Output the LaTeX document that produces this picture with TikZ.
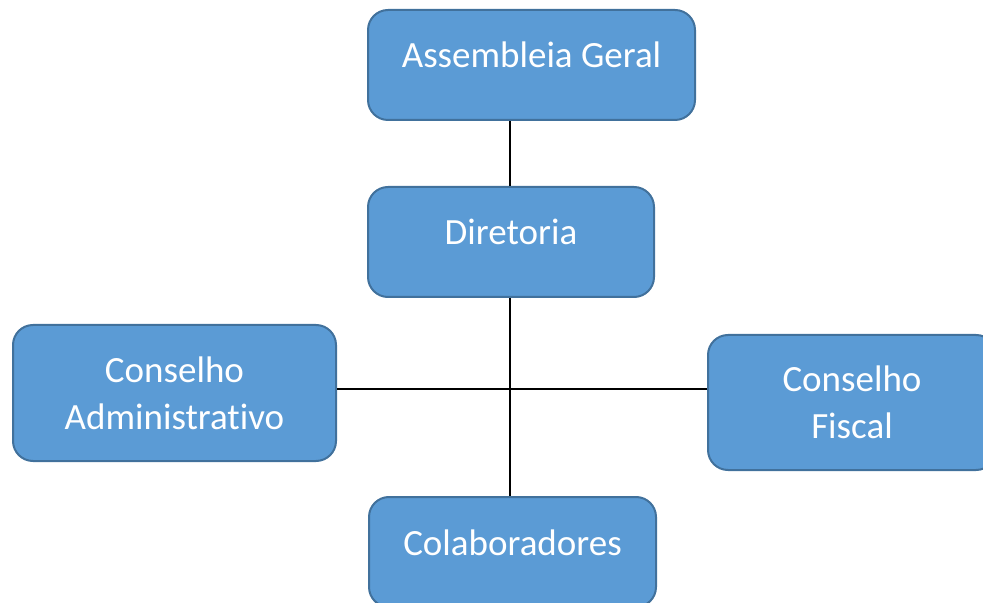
\documentclass[tikz,border=0pt]{standalone}
\usepackage{fontspec}
\setmainfont{Carlito}[Ligatures=NoCommon]
\definecolor{boxfill}{HTML}{5B9BD5}
\definecolor{boxline}{HTML}{41719C}

\begin{document}
\begin{tikzpicture}
[x=.5pt,y=-.5pt,
 orgbox/.style={draw=boxline,fill=boxfill,line width=1pt,rounded corners=10pt,text=white,align=center,inner sep=0pt,font=\fontsize{18.5}{23.5}\selectfont},
 oneline/.style={text height=13pt,text depth=10pt}]
\useasboundingbox (0,0) rectangle (983,603);
\clip (0,0) rectangle (983,603);

\node[orgbox,oneline,minimum width=163.5pt,minimum height=55pt] (ag) at (531.5,65) {Assembleia Geral};
\node[orgbox,oneline,minimum width=143pt,minimum height=55pt] (dir) at (511,242) {Diretoria};

\node[orgbox,minimum width=161.5pt,minimum height=68pt] (ca) at (174.5,393) {Conselho\\Administrativo};
\node[orgbox,minimum width=144pt,minimum height=67.5pt] (cf) at (852,402.5) {Conselho\\Fiscal};

\node[orgbox,oneline,minimum width=143.5pt,minimum height=55pt] (col) at (512.5,552) {Colaboradores};

\coordinate (hub) at (510,389);

\draw[line width=.6pt] (hub |- dir.north) -- (hub |- ag.south);
\draw[line width=.6pt] (hub |- dir.south) -- (hub |- col.north);
\draw[line width=.6pt] (hub -| ca.east) -- (hub -| cf.west);
\end{tikzpicture}
\end{document}
